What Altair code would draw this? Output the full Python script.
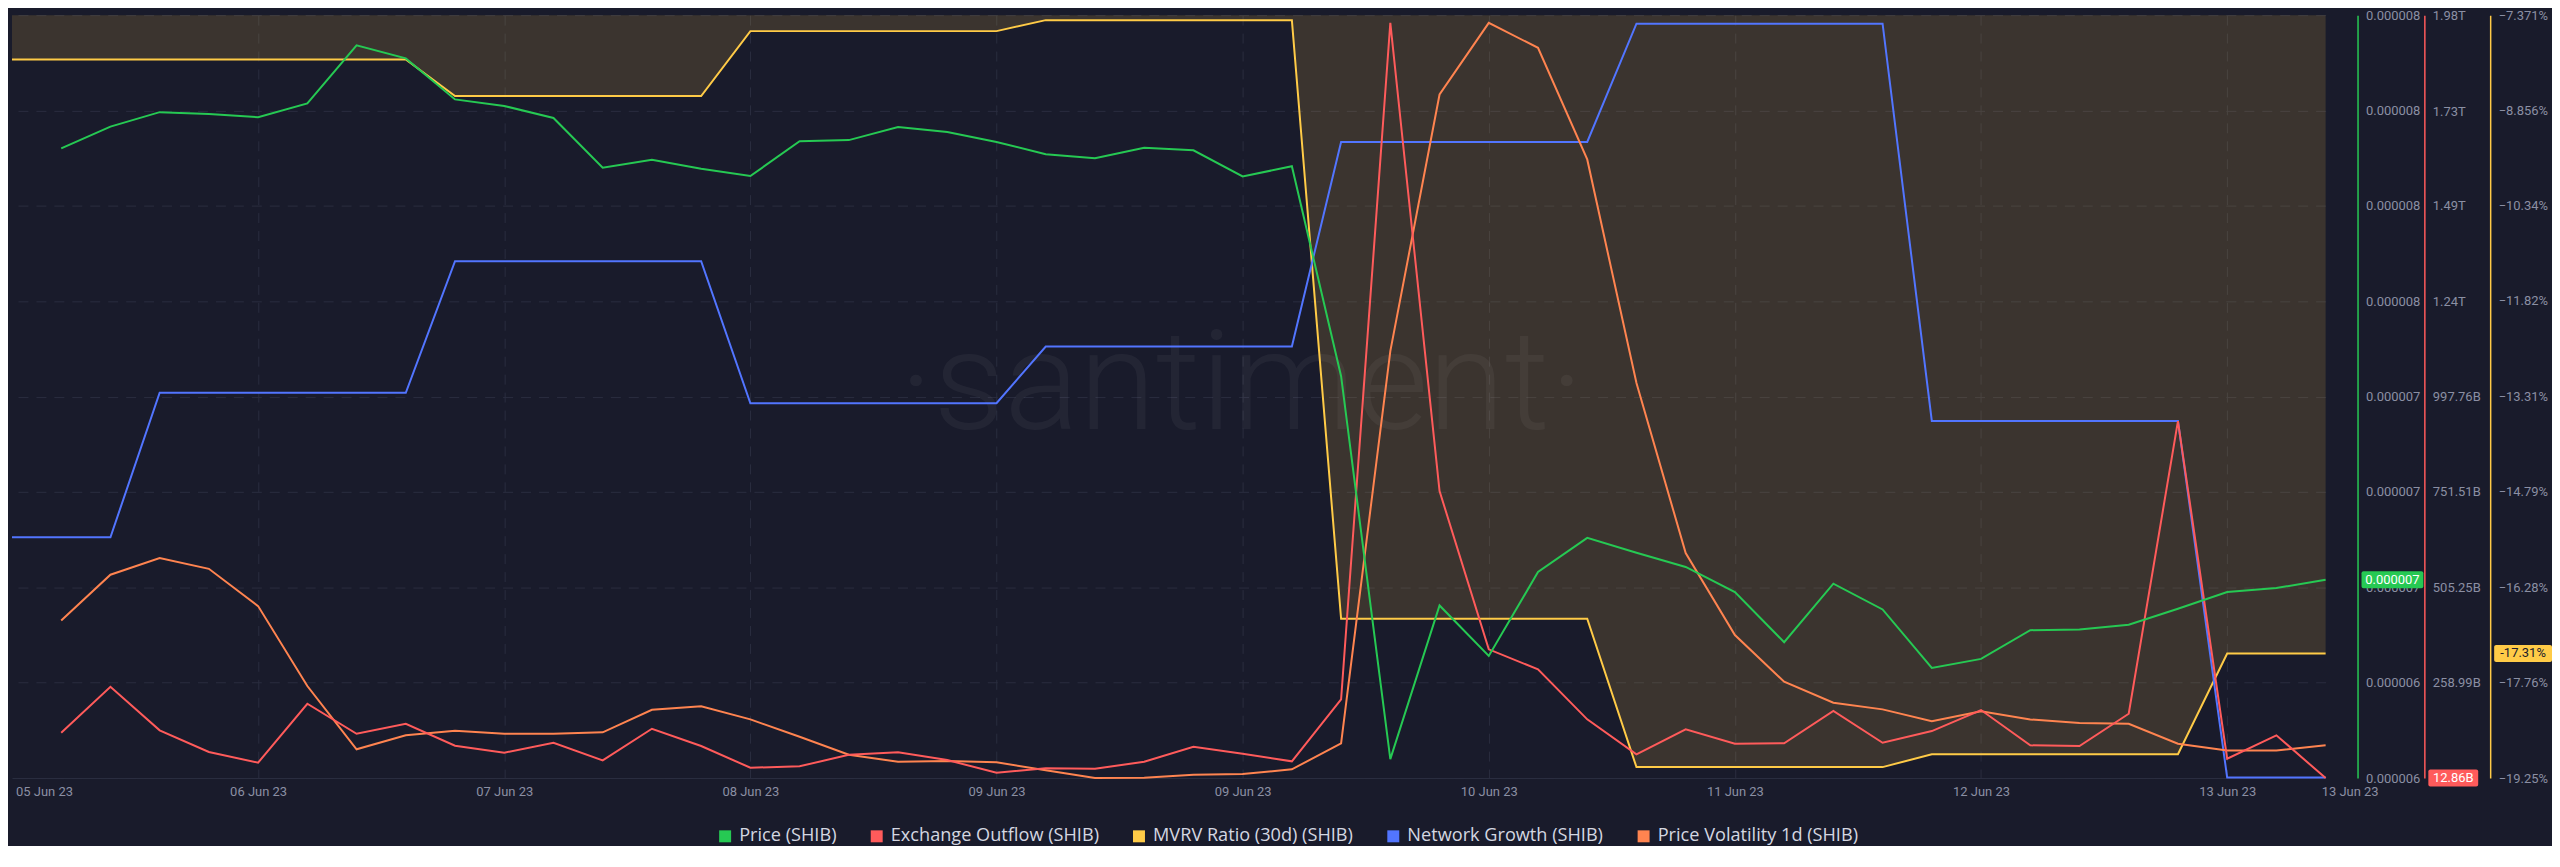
import altair as alt
import pandas as pd

# ---------------- data (4-hour grid, 05 Jun 23 16:00 UTC .. 13 Jun 23 12:00 UTC) ----------------
times = list(pd.date_range("2023-06-05 16:00", periods=48, freq="4h").strftime("%Y-%m-%dT%H:%M:%SZ"))

series_names = ["Price (SHIB)", "Exchange Outflow (SHIB)", "MVRV Ratio (30d) (SHIB)",
                "Network Growth (SHIB)", "Price Volatility 1d (SHIB)"]
series_colors = ["#26c953", "#ff5b5b", "#ffcb47", "#5275ff", "#ff8450"]

# Price in units of 1e-6 USD
price_e6 = [None, 7.933, 7.993, 8.033, 8.028, 8.019, 8.057, 8.217, 8.181, 8.068, 8.050, 8.017,
            7.880, 7.902, 7.877, 7.857, 7.953, 7.956, 7.992, 7.978, 7.951, 7.917, 7.906, 7.935,
            7.928, 7.856, 7.884, 7.306, 6.252, 6.675, 6.536, 6.767, 6.861, 6.820, 6.781, 6.712,
            6.574, 6.735, 6.664, 6.503, 6.528, 6.607, 6.609, 6.622, 6.666, 6.712, 6.723, 6.746]

# Exchange outflow in billions of SHIB
outflow_b = [None, 129.8, 248.6, 136.0, 80.0, 52.4, 204.7, 127.2, 153.1, 96.3, 78.2, 104.0,
             58.6, 140.1, 95.5, 39.5, 43.1, 73.0, 79.2, 59.3, 26.5, 37.9, 36.9, 54.9,
             93.7, 75.6, 56.0, 216.1, 1963.0, 753.9, 345.2, 293.5, 164.4, 74.0, 138.6, 101.4,
             102.5, 185.9, 104.0, 134.2, 188.4, 97.3, 95.5, 178.9, 934.6, 62.7, 123.1, 12.86]

# MVRV ratio (30d), percent
mvrv_pct = [-8.061, -8.061, -8.061, -8.061, -8.061, -8.061, -8.061, -8.061, -8.061,
            -8.632, -8.632, -8.632, -8.632, -8.632, -8.632,
            -7.620, -7.620, -7.620, -7.620, -7.620, -7.620,
            -7.449, -7.449, -7.449, -7.449, -7.449, -7.449,
            -16.77, -16.77, -16.77, -16.77, -16.77, -16.77,
            -19.08, -19.08, -19.08, -19.08, -19.08, -19.08,
            -18.88, -18.88, -18.88, -18.88, -18.88, -18.88,
            -17.31, -17.31, -17.31]

# Network growth (new addresses)
network_growth = [1205, 1205, 1205,
                  1508, 1508, 1508, 1508, 1508, 1508,
                  1784, 1784, 1784, 1784, 1784, 1784,
                  1486, 1486, 1486, 1486, 1486, 1486,
                  1605, 1605, 1605, 1605, 1605, 1605,
                  2034, 2034, 2034, 2034, 2034, 2034,
                  2282, 2282, 2282, 2282, 2282, 2282,
                  1449, 1449, 1449, 1449, 1449, 1449,
                  701, 701, 701]

# Price volatility 1d
volatility = [None, 2.153, 2.632, 2.807, 2.694, 2.303, 1.465, 0.801, 0.948, 0.996, 0.964, 0.964,
              0.979, 1.216, 1.252, 1.115, 0.933, 0.744, 0.671, 0.678, 0.665, 0.581, 0.500, 0.503,
              0.535, 0.542, 0.591, 0.864, 4.977, 7.668, 8.419, 8.157, 6.987, 4.642, 2.859, 1.999,
              1.510, 1.290, 1.220, 1.095, 1.199, 1.115, 1.077, 1.069, 0.860, 0.790, 0.790, 0.843]

# axis tick values / labels
price_ticks_e6 = [6.2, 6.4625, 6.725, 6.9875, 7.25, 7.5125, 7.775, 8.0375, 8.3]
outflow_ticks_b = [12.86, 258.99, 505.25, 751.51, 997.76, 1244.0, 1490.3, 1734.9, 1982.8]
mvrv_ticks = [-19.25, -17.76, -16.28, -14.79, -13.31, -11.82, -10.34, -8.856, -7.371]
x_tick_times = ["2023-06-06T12:00:00Z", "2023-06-07T08:00:00Z", "2023-06-08T04:00:00Z",
                "2023-06-09T00:00:00Z", "2023-06-09T20:00:00Z", "2023-06-10T16:00:00Z",
                "2023-06-11T12:00:00Z", "2023-06-12T08:00:00Z", "2023-06-13T04:00:00Z"]
edge_labels = ["05 Jun 23", "13 Jun 23"]

# ---------------- styling ----------------
BG = "#191b2b"
GRID = "#2a2d3f"
LABEL = "#8b8fa3"
W, H = 2320, 765


def ms(s):
    return int(pd.Timestamp(s).value // 10**6)


def frame(vals, name, mult=1.0):
    rows = [{"t": times[i], "v": v * mult, "series": name} for i, v in enumerate(vals) if v is not None]
    return pd.DataFrame(rows)


x_enc = alt.X(
    "t:T",
    scale=alt.Scale(type="utc", domain=[ms(times[0]), ms(times[-1])]),
    axis=alt.Axis(values=[ms(s) for s in x_tick_times], format="%d %b %y", title=None,
                  labelFont="Roboto", labelFontSize=13, labelColor=LABEL, labelPadding=8,
                  ticks=False, domainColor="#2b2e40", domainWidth=1,
                  grid=True, gridColor=GRID, gridDash=[10, 8], gridWidth=1),
)


def right_axis(offset, color, values, grid=False, fmt=None, expr=None):
    kw = dict(orient="right", offset=offset, values=values, title=None, ticks=False,
              labelPadding=8, labelFont="Roboto", labelFontSize=13, labelColor=LABEL,
              domainColor=color, domainWidth=1.5, grid=grid)
    if grid:
        kw.update(gridColor=GRID, gridDash=[10, 8], gridWidth=1)
    if fmt:
        kw["format"] = fmt
    if expr:
        kw["labelExpr"] = expr
    return alt.Axis(**kw)


price_y = alt.Y("v:Q", scale=alt.Scale(domain=[6.2e-6, 8.3e-6], nice=False, zero=False),
                axis=right_axis(32, series_colors[0], [v * 1e-6 for v in price_ticks_e6], grid=True, fmt=".6f"))
outflow_y = alt.Y("v:Q", scale=alt.Scale(domain=[outflow_ticks_b[0], outflow_ticks_b[-1]], nice=False, zero=False),
                  axis=right_axis(99, series_colors[1], outflow_ticks_b,
                                  expr="datum.value >= 1000 ? format(datum.value / 1000, '.2f') + 'T' : format(datum.value, '.2f') + 'B'"))
mvrv_y = alt.Y("v:Q", scale=alt.Scale(domain=[mvrv_ticks[0], mvrv_ticks[-1]], nice=False, zero=False),
               axis=right_axis(165, series_colors[2], mvrv_ticks, expr="format(datum.value, '.4r') + '%'"))
ng_y = alt.Y("v:Q", scale=alt.Scale(domain=[700, 2300], nice=False, zero=False), axis=None)
vol_y = alt.Y("v:Q", scale=alt.Scale(domain=[0.5, 8.5], nice=False, zero=False), axis=None)

price_df = frame(price_e6, series_names[0], 1e-6)
outflow_df = frame(outflow_b, series_names[1])
mvrv_df = frame(mvrv_pct, series_names[2])
ng_df = frame(network_growth, series_names[3])
vol_df = frame(volatility, series_names[4])


def line(df, y, color):
    return alt.Chart(df).mark_line(color=color, strokeWidth=2).encode(x=x_enc, y=y)


def last_box(df, y, color, xpix, width, label, text_color):
    d = df.tail(1).copy()
    d["label"] = label
    box = alt.Chart(d).mark_tick(orient="horizontal", color=color, thickness=17, opacity=1,
                                 cornerRadius=2).encode(x=alt.value(xpix), y=y, size=alt.value(width))
    txt = alt.Chart(d).mark_text(align="center", baseline="middle", font="Roboto", fontSize=13,
                                 color=text_color).encode(x=alt.value(xpix), y=y, text="label:N")
    return box + txt


# MVRV: filled area above the line (up to the top of the plot) + watermark + line + last value box
mvrv_area = alt.Chart(mvrv_df).mark_area(color=series_colors[2], opacity=0.15).encode(
    x=x_enc, y=mvrv_y, y2=alt.datum(mvrv_ticks[-1]))
watermark = alt.Chart(pd.DataFrame({"w": ["·santiment·"]})).mark_text(
    align="center", baseline="alphabetic", font="Roboto", fontWeight=300, fontSize=140,
    color="#ffffff", opacity=0.045).encode(x=alt.value(1233), y=alt.value(415), text="w:N")
mvrv_layer = alt.layer(
    mvrv_area, watermark, line(mvrv_df, mvrv_y, series_colors[2]),
    last_box(mvrv_df, mvrv_y, series_colors[2], 2518, 58, f"{mvrv_pct[-1]:.2f}%", "#1a1c2b"),
)

ng_layer = line(ng_df, ng_y, series_colors[3])
vol_layer = line(vol_df, vol_y, series_colors[4])
outflow_layer = alt.layer(
    line(outflow_df, outflow_y, series_colors[1]),
    last_box(outflow_df, outflow_y, series_colors[1], 2448, 50, f"{outflow_b[-1]:.2f}B", "#ffffff"),
)

legend_df = pd.DataFrame([{"t": times[-1], "v": price_e6[-1] * 1e-6, "series": series_names[0]}])
legend_layer = alt.Chart(legend_df).mark_square(opacity=0, size=10).encode(
    x=x_enc, y=price_y,
    color=alt.Color("series:N", scale=alt.Scale(domain=series_names, range=series_colors),
                    legend=alt.Legend(orient="none", legendX=706, legendY=814, direction="horizontal",
                                      title=None, symbolType="square", symbolSize=144,
                                      symbolOpacity=1, symbolStrokeWidth=0,
                                      labelFont="Open Sans", labelFontSize=18.2, labelColor="#d4d7e1",
                                      labelLimit=0, labelOffset=5, columnPadding=31)),
)
price_layer = alt.layer(
    line(price_df, price_y, series_colors[0]),
    last_box(price_df, price_y, series_colors[0], 2387, 62, f"{price_e6[-1] * 1e-6:.6f}", "#ffffff"),
    legend_layer,
)

edge_df = pd.DataFrame({"t": [times[0], times[-1]], "label": edge_labels})
edge_left = alt.Chart(edge_df.head(1)).mark_text(
    align="left", baseline="middle", dx=4, font="Roboto", fontSize=13, color=LABEL
).encode(x=x_enc, y=alt.value(H + 14), text="label:N")
edge_right = alt.Chart(edge_df.tail(1)).mark_text(
    align="left", baseline="middle", dx=-4, font="Roboto", fontSize=13, color=LABEL
).encode(x=x_enc, y=alt.value(H + 14), text="label:N")

chart = alt.layer(
    mvrv_layer, ng_layer, vol_layer, outflow_layer, price_layer, edge_left, edge_right
).resolve_scale(y="independent").properties(
    width=W, height=H, background=BG,
    padding={"left": 0, "top": 0, "right": 0, "bottom": 0},
).configure_view(stroke=None)

chart.save("out.html", embed_options={"renderer": "svg", "actions": False})
